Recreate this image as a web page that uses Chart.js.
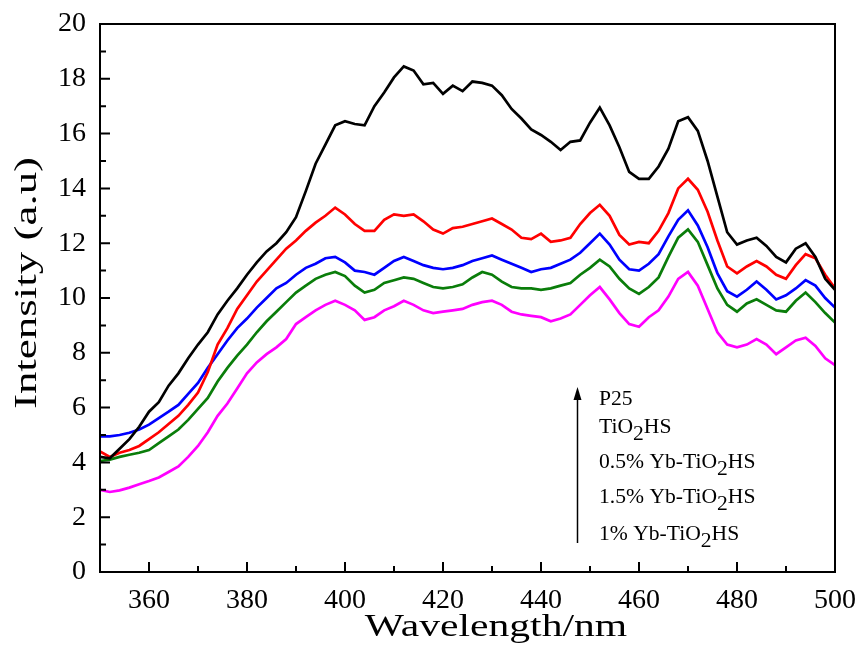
<!DOCTYPE html>
<html>
<head>
<meta charset="utf-8">
<script src="https://cdn.jsdelivr.net/npm/chart.js@4.4.1/dist/chart.umd.min.js"></script>
<style>
  html, body { margin: 0; padding: 0; background: #fff; }
  #wrap { width: 865px; height: 659px; }
</style>
</head>
<body>
<div id="wrap"><canvas id="pl" width="865" height="659"></canvas></div>
<script>
// wavelength axis (nm), one sample every 2 nm
const wavelength = [350,352,354,356,358,360,362,364,366,368,370,372,374,376,378,380,382,384,386,388,
  390,392,394,396,398,400,402,404,406,408,410,412,414,416,418,420,422,424,426,428,
  430,432,434,436,438,440,442,444,446,448,450,452,454,456,458,460,462,464,466,468,
  470,472,474,476,478,480,482,484,486,488,490,492,494,496,498,500];

const p25 = [4.2,4.15,4.5,4.85,5.3,5.85,6.2,6.8,7.25,7.8,8.3,8.75,9.4,9.9,10.35,10.85,11.3,11.7,12.0,12.4,
  12.95,13.9,14.9,15.6,16.3,16.45,16.35,16.3,17.0,17.5,18.05,18.45,18.3,17.8,17.85,17.45,17.75,17.55,17.9,17.85,
  17.75,17.4,16.9,16.55,16.15,15.95,15.7,15.4,15.7,15.75,16.4,16.95,16.3,15.5,14.6,14.35,14.35,14.8,15.45,16.45,
  16.6,16.1,15.0,13.7,12.4,11.95,12.1,12.2,11.9,11.5,11.3,11.8,12.0,11.5,10.7,10.3];

const tio2hs = [4.4,4.2,4.35,4.45,4.6,4.85,5.1,5.4,5.7,6.1,6.55,7.3,8.3,8.9,9.6,10.1,10.6,11.0,11.4,11.8,
  12.1,12.45,12.75,13.0,13.3,13.05,12.7,12.45,12.45,12.85,13.05,13.0,13.05,12.8,12.5,12.35,12.55,12.6,12.7,12.8,
  12.9,12.7,12.5,12.2,12.15,12.35,12.05,12.1,12.2,12.7,13.1,13.4,13.0,12.3,11.95,12.05,12.0,12.45,13.1,14.0,
  14.35,13.95,13.15,12.1,11.15,10.9,11.15,11.35,11.15,10.85,10.7,11.2,11.6,11.45,10.85,10.35];

const yb05 = [4.95,4.95,5.0,5.08,5.2,5.38,5.62,5.85,6.1,6.5,6.9,7.45,7.95,8.45,8.9,9.25,9.65,10.0,10.35,10.55,
  10.85,11.1,11.25,11.45,11.5,11.3,11.0,10.95,10.85,11.1,11.35,11.5,11.35,11.2,11.1,11.05,11.1,11.2,11.35,11.45,
  11.55,11.4,11.25,11.1,10.95,11.05,11.1,11.25,11.4,11.65,12.0,12.35,11.95,11.4,11.05,11.0,11.25,11.6,12.25,12.85,
  13.2,12.65,11.85,10.9,10.25,10.05,10.3,10.6,10.3,9.95,10.1,10.35,10.65,10.45,10.0,9.65];

const yb15 = [4.05,4.1,4.2,4.28,4.35,4.45,4.7,4.95,5.2,5.55,5.95,6.35,6.95,7.45,7.9,8.3,8.75,9.15,9.5,9.85,
  10.2,10.45,10.7,10.85,10.95,10.8,10.45,10.2,10.3,10.55,10.65,10.75,10.7,10.55,10.4,10.35,10.4,10.5,10.75,10.95,
  10.85,10.6,10.4,10.35,10.35,10.3,10.35,10.45,10.55,10.85,11.1,11.4,11.15,10.7,10.35,10.15,10.4,10.75,11.5,12.2,
  12.5,12.05,11.2,10.35,9.75,9.5,9.8,9.95,9.75,9.55,9.5,9.9,10.2,9.85,9.45,9.1];

const yb1 = [3.0,2.92,2.98,3.08,3.2,3.32,3.45,3.65,3.85,4.2,4.6,5.1,5.7,6.15,6.7,7.25,7.65,7.95,8.2,8.5,
  9.05,9.3,9.55,9.75,9.9,9.75,9.55,9.2,9.3,9.55,9.7,9.9,9.75,9.55,9.45,9.5,9.55,9.6,9.75,9.85,
  9.9,9.75,9.5,9.4,9.35,9.3,9.15,9.25,9.4,9.75,10.1,10.4,9.95,9.45,9.05,8.95,9.3,9.55,10.05,10.7,
  10.95,10.45,9.6,8.75,8.3,8.2,8.3,8.5,8.3,7.95,8.2,8.45,8.55,8.25,7.8,7.55];

const seriesNames = ['P25', 'TiO2HS', '0.5% Yb-TiO2HS', '1.5% Yb-TiO2HS', '1% Yb-TiO2HS'];
const seriesColors = ['#000000', '#ff0000', '#0000ff', '#0a7d0a', '#ff00ff'];
const xTickLabels = [360, 380, 400, 420, 440, 460, 480, 500];
const yTickLabels = [0, 2, 4, 6, 8, 10, 12, 14, 16, 18, 20];

const FONT = "'Liberation Serif', 'Times New Roman', serif";

const pts = vals => vals.map((v, i) => ({ x: wavelength[i], y: v }));
const allSeries = [p25, tio2hs, yb05, yb15, yb1];

// frame, inward ticks, the arrow legend and the stretched axis titles
const decor = {
  id: 'decor',
  afterDraw(chart) {
    const { ctx, chartArea: a, scales: { x, y } } = chart;
    ctx.save();
    ctx.strokeStyle = '#000';
    ctx.lineWidth = 2;
    ctx.strokeRect(a.left, a.top, a.right - a.left, a.bottom - a.top);

    ctx.beginPath();
    for (let v = 350; v <= 500; v += 10) {
      const px = x.getPixelForValue(v);
      const len = v % 20 === 0 ? 10 : 6;
      ctx.moveTo(px, a.bottom);
      ctx.lineTo(px, a.bottom - len);
    }
    for (let v = 0; v <= 20; v += 1) {
      const py = y.getPixelForValue(v);
      const len = v % 2 === 0 ? 10 : 6;
      ctx.moveTo(a.left, py);
      ctx.lineTo(a.left + len, py);
    }
    ctx.stroke();

    // arrow
    ctx.lineWidth = 1.5;
    ctx.beginPath();
    ctx.moveTo(577.5, 543);
    ctx.lineTo(577.5, 398);
    ctx.stroke();
    ctx.fillStyle = '#000';
    ctx.beginPath();
    ctx.moveTo(577.5, 387);
    ctx.lineTo(573.5, 400);
    ctx.lineTo(581.5, 400);
    ctx.closePath();
    ctx.fill();

    // legend text, top to bottom
    const baselines = [405, 433, 468, 503, 540];
    ctx.font = '20px ' + FONT;
    ctx.textBaseline = 'alphabetic';
    ctx.textAlign = 'left';
    seriesNames.forEach((name, i) => {
      ctx.save();
      ctx.translate(599, baselines[i]);
      ctx.scale(1.08, 1);
      const k = name.indexOf('O2');
      if (k < 0) {
        ctx.fillText(name, 0, 0);
      } else {
        const a1 = name.slice(0, k + 1), b1 = name.slice(k + 2);
        let cx = 0;
        ctx.fillText(a1, cx, 0); cx += ctx.measureText(a1).width;
        ctx.fillText('2', cx, 7); cx += ctx.measureText('2').width;
        ctx.fillText(b1, cx, 0);
      }
      ctx.restore();
    });

    // axis titles
    ctx.save();
    ctx.font = '32px ' + FONT;
    ctx.textAlign = 'center';
    ctx.translate(496, 636);
    ctx.scale(1.3, 1);
    ctx.fillText('Wavelength/nm', 0, 0);
    ctx.restore();

    ctx.save();
    ctx.font = '31px ' + FONT;
    ctx.textAlign = 'center';
    ctx.translate(36, 283);
    ctx.rotate(-Math.PI / 2);
    ctx.scale(1.45, 1);
    ctx.fillText('Intensity (a.u)', 0, 0);
    ctx.restore();

    ctx.restore();
  }
};

new Chart(document.getElementById('pl'), {
  type: 'line',
  data: {
    datasets: allSeries.map((s, i) => ({
      label: seriesNames[i],
      data: pts(s),
      borderColor: seriesColors[i],
      backgroundColor: seriesColors[i],
      borderWidth: 2.7,
      pointRadius: 0,
      tension: 0,
      fill: false
    }))
  },
  options: {
    responsive: false,
    animation: false,
    layout: { padding: { top: 24, right: 30, left: 0, bottom: 0 } },
    plugins: { legend: { display: false }, tooltip: { enabled: false } },
    scales: {
      x: {
        type: 'linear',
        min: 350,
        max: 500,
        afterBuildTicks: s => { s.ticks = xTickLabels.map(v => ({ value: v })); },
        afterFit: s => { s.height = 87; s.paddingLeft = 0; s.paddingRight = 0; },
        grid: { display: false, drawTicks: false },
        border: { display: false },
        ticks: { color: '#000', font: { family: FONT, size: 28 }, padding: 12, maxRotation: 0, autoSkip: false }
      },
      y: {
        min: 0,
        max: 20,
        afterBuildTicks: s => { s.ticks = yTickLabels.map(v => ({ value: v })); },
        afterFit: s => { s.width = 100; s.paddingTop = 0; s.paddingBottom = 0; },
        grid: { display: false, drawTicks: false },
        border: { display: false },
        ticks: { color: '#000', font: { family: FONT, size: 28 }, padding: 14, autoSkip: false }
      }
    }
  },
  plugins: [decor]
});
</script>
</body>
</html>
